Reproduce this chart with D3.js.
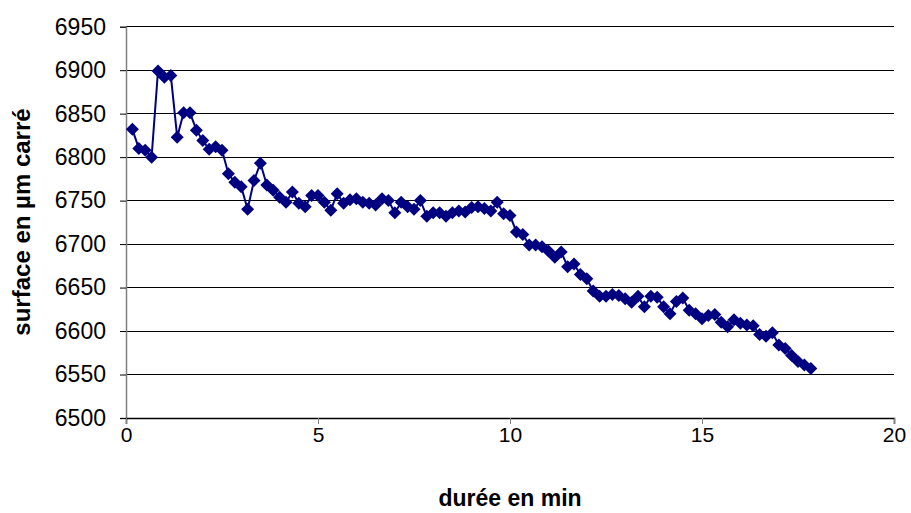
<!DOCTYPE html>
<html>
<head>
<meta charset="utf-8">
<script src="https://cdn.jsdelivr.net/npm/d3@7"></script>
<style>
  html, body { margin: 0; padding: 0; background: #ffffff; }
  svg { display: block; }
  text { font-family: "Liberation Sans", Arial, sans-serif; fill: #000; }
</style>
</head>
<body>
<svg id="chart" width="911" height="513"></svg>
<script>
// ---- data ----
const timeStepMin = 1 / 6; // one measurement every 10 s
const surfaceValues = [
  6832, 6810, 6808, 6800, 6899, 6892, 6894, 6823, 6851, 6851,
  6831, 6819, 6809, 6812, 6808, 6781, 6771, 6766, 6740, 6773,
  6793, 6768, 6762, 6754, 6748, 6760, 6747, 6743, 6756, 6756,
  6748, 6739, 6758, 6747, 6751, 6752, 6748, 6747, 6745, 6752,
  6750, 6736, 6748, 6743, 6740, 6750, 6732, 6736, 6736, 6732,
  6736, 6738, 6737, 6742, 6743, 6741, 6738, 6748, 6735, 6733,
  6714, 6711, 6699, 6699, 6697, 6692, 6685, 6691, 6674, 6677,
  6665, 6660, 6646, 6640, 6640, 6642, 6641, 6637, 6633, 6640,
  6628, 6640, 6639, 6628, 6620, 6634, 6638, 6624, 6620, 6614,
  6618, 6619, 6610, 6605, 6613, 6609, 6607, 6606, 6596, 6594,
  6598, 6584, 6580, 6572, 6565, 6561, 6557
];
const durations = surfaceValues.map((v, i) => (i + 1) * timeStepMin);
const xTicks = [0, 5, 10, 15, 20];
const yTicks = [6500, 6550, 6600, 6650, 6700, 6750, 6800, 6850, 6900, 6950];
const xTitle = "durée en min";
const yTitle = "surface en µm carré";

const points = durations.map((t, i) => ({ t, v: surfaceValues[i] }));

// ---- layout ----
const svg = d3.select("#chart");
const x = d3.scaleLinear().domain([0, 20]).range([126, 894]);
const y = d3.scaleLinear().domain([6500, 6950]).range([418, 26.7]);
const color = "#000080";

// gridlines
svg.append("g")
  .selectAll("line")
  .data(yTicks.filter(d => d !== 6500))
  .join("line")
  .attr("x1", x(0)).attr("x2", x(20))
  .attr("y1", d => y(d)).attr("y2", d => y(d))
  .attr("stroke", "#000").attr("stroke-width", 1)
  .attr("shape-rendering", "crispEdges");

// y axis
const yAxis = svg.append("g")
  .attr("transform", `translate(${x(0)},0)`)
  .call(d3.axisLeft(y).tickValues(yTicks).tickSize(6).tickPadding(14).tickFormat(d3.format("d")));
yAxis.select(".domain").attr("stroke", "#808080").attr("stroke-width", 1.5);
yAxis.selectAll(".tick line").attr("stroke", "#000");
yAxis.selectAll("text")
  .style("font-size", "23px")
  .style("font-family", "'Liberation Sans', Arial, sans-serif")
  .attr("fill", "#000");

// x axis
const xAxis = svg.append("g")
  .attr("transform", `translate(0,${y(6500)})`)
  .call(d3.axisBottom(x).tickValues(xTicks).tickSize(6).tickPadding(3).tickFormat(d3.format("d")));
xAxis.select(".domain").attr("stroke", "#000").attr("stroke-width", 1.5);
xAxis.selectAll(".tick line").attr("stroke", "#808080");
xAxis.selectAll("text")
  .style("font-size", "21px")
  .style("font-family", "'Liberation Sans', Arial, sans-serif")
  .attr("fill", "#000");

// line
const line = d3.line().x(d => x(d.t)).y(d => y(d.v));
svg.append("path")
  .datum(points)
  .attr("d", line)
  .attr("fill", "none")
  .attr("stroke", color)
  .attr("stroke-width", 2);

// diamond markers
const diamond = "M0,-6.5L6.5,0L0,6.5L-6.5,0Z";
svg.append("g")
  .selectAll("path")
  .data(points)
  .join("path")
  .attr("d", diamond)
  .attr("transform", d => `translate(${x(d.t)},${y(d.v)})`)
  .attr("fill", color);

// titles
svg.append("text")
  .attr("x", 510).attr("y", 506)
  .attr("text-anchor", "middle")
  .style("font-size", "23px").style("font-weight", "bold")
  .text(xTitle);

svg.append("text")
  .attr("transform", `translate(30,222) rotate(-90)`)
  .attr("text-anchor", "middle")
  .style("font-size", "24px").style("font-weight", "bold")
  .text(yTitle);
</script>
</body>
</html>
